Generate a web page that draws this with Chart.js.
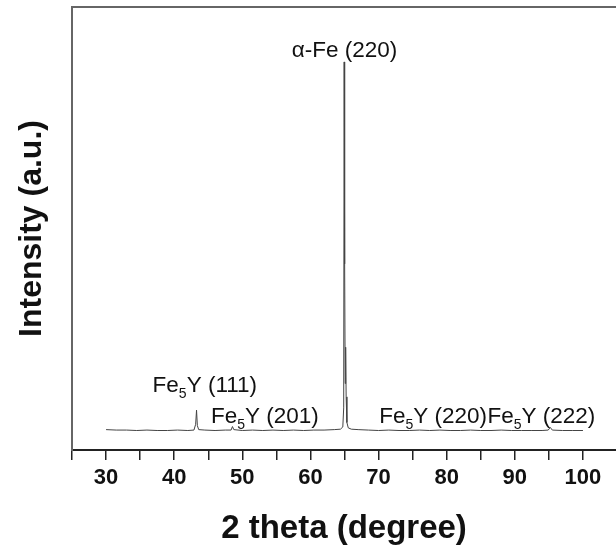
<!DOCTYPE html>
<html>
<head>
<meta charset="utf-8">
<script src="https://cdn.jsdelivr.net/npm/chart.js@4.4.1/dist/chart.umd.min.js"></script>
<style>
  html, body { margin: 0; padding: 0; background: #fff; }
  #wrap { width: 616px; height: 549px; position: relative; }
</style>
</head>
<body>
<div id="wrap"><canvas id="xrdChart"></canvas></div>
<script>
// XRD pattern values (2 theta in degrees, intensity in a.u. 0-1000)
const twoTheta = [
  30, 31.5, 33, 34.5, 36, 37.5, 39, 40.5, 42, 42.9,
  43.15, 43.28, 43.4, 43.6, 44.5, 46, 47.5, 48.35, 48.55, 48.75,
  50, 51.5, 53, 54.5, 56, 57.5, 59, 60.5, 62, 63.5,
  64.4, 64.75, 64.88, 64.95, 65.02, 65.1, 65.17, 65.24, 65.35, 65.55,
  66, 67, 68.5, 70, 71.5, 73, 74.5, 76, 77.5, 79,
  80.5, 82, 83.5, 85, 86.5, 88, 89.5, 91, 92.5, 94,
  94.9, 95.2, 95.5, 97, 98.5, 100
];
const intensity = [
  46, 45, 45, 44, 45, 44, 44, 45, 44, 45,
  58, 90, 55, 46, 45, 44, 45, 45, 53, 46,
  44, 45, 44, 45, 44, 45, 44, 45, 45, 46,
  47, 52, 95, 876, 420, 150, 232, 120, 62, 50,
  47, 46, 45, 44, 45, 44, 44, 45, 44, 45,
  44, 44, 45, 44, 44, 45, 44, 44, 44, 44,
  45, 51, 45, 44, 44, 44
];
const xTicks = [25, 30, 35, 40, 45, 50, 55, 60, 65, 70, 75, 80, 85, 90, 95, 100];

// peak labels: text parts (with subscript) and where they sit in data units
const peakLabels = [
  { pre: 'α-Fe (220)', sub: '', post: '', x: 65.0, y: 887 },
  { pre: 'Fe', sub: '5', post: 'Y (111)', x: 44.5, y: 131 },
  { pre: 'Fe', sub: '5', post: 'Y (201)', x: 53.3, y: 61 },
  { pre: 'Fe', sub: '5', post: 'Y (220)', x: 78.0, y: 61 },
  { pre: 'Fe', sub: '5', post: 'Y (222)', x: 93.9, y: 61 }
];

const FONT = '"Liberation Sans", Arial, sans-serif';

const peakLabelPlugin = {
  id: 'peakLabels',
  afterDraw(chart) {
    const { ctx, chartArea, scales } = chart;
    ctx.save();
    // top frame line
    ctx.strokeStyle = '#666';
    ctx.lineWidth = 2;
    ctx.beginPath();
    ctx.moveTo(chartArea.left - 1, chartArea.top);
    ctx.lineTo(chartArea.right, chartArea.top);
    ctx.stroke();

    const big = '22.5px ' + FONT;
    const small = '14px ' + FONT;
    ctx.fillStyle = '#111';
    ctx.textBaseline = 'alphabetic';
    ctx.textAlign = 'left';
    peakLabels.forEach(l => {
      ctx.font = big;
      const w1 = ctx.measureText(l.pre).width;
      const w3 = ctx.measureText(l.post).width;
      ctx.font = small;
      const w2 = l.sub ? ctx.measureText(l.sub).width : 0;
      let x = scales.x.getPixelForValue(l.x) - (w1 + w2 + w3) / 2;
      const y = scales.y.getPixelForValue(l.y);
      ctx.font = big;
      ctx.fillText(l.pre, x, y);
      x += w1;
      if (l.sub) {
        ctx.font = small;
        ctx.fillText(l.sub, x, y + 6);
        x += w2;
      }
      ctx.font = big;
      ctx.fillText(l.post, x, y);
    });
    ctx.restore();
  }
};

const points = twoTheta.map((t, i) => ({ x: t, y: intensity[i] }));

new Chart(document.getElementById('xrdChart').getContext('2d'), {
  type: 'line',
  data: {
    datasets: [{
      data: points,
      borderColor: '#444',
      borderWidth: 1,
      pointRadius: 0,
      tension: 0,
      fill: false
    }]
  },
  options: {
    responsive: true,
    maintainAspectRatio: false,
    animation: false,
    layout: { padding: { top: 7, right: 0, left: 0, bottom: 0 } },
    plugins: {
      legend: { display: false },
      tooltip: { enabled: false }
    },
    scales: {
      x: {
        type: 'linear',
        min: 25,
        max: 104.85,
        afterBuildTicks: scale => { scale.ticks = xTicks.map(v => ({ value: v })); },
        afterFit: scale => { scale.height = 99; },
        grid: { drawOnChartArea: false, tickLength: 10, color: '#222', lineWidth: 1.5 },
        border: { display: true, color: '#222', width: 2 },
        ticks: {
          padding: 5,
          color: '#111',
          maxRotation: 0,
          autoSkip: false,
          font: { family: FONT, size: 22, weight: 'bold' },
          callback: v => (v % 10 === 0 ? String(v) : '')
        },
        title: {
          display: true,
          text: '2 theta (degree)',
          color: '#111',
          padding: { top: 0, bottom: 0 },
          font: { family: FONT, size: 33, weight: 'bold' }
        }
      },
      y: {
        min: 0,
        max: 1000,
        afterFit: scale => { scale.width = 72; },
        grid: { display: false },
        border: { display: true, color: '#666', width: 2 },
        ticks: { display: false },
        title: {
          display: true,
          text: 'Intensity (a.u.)',
          color: '#111',
          padding: { top: 13, bottom: 0 },
          font: { family: FONT, size: 32, weight: 'bold' }
        }
      }
    }
  },
  plugins: [peakLabelPlugin]
});
</script>
</body>
</html>
